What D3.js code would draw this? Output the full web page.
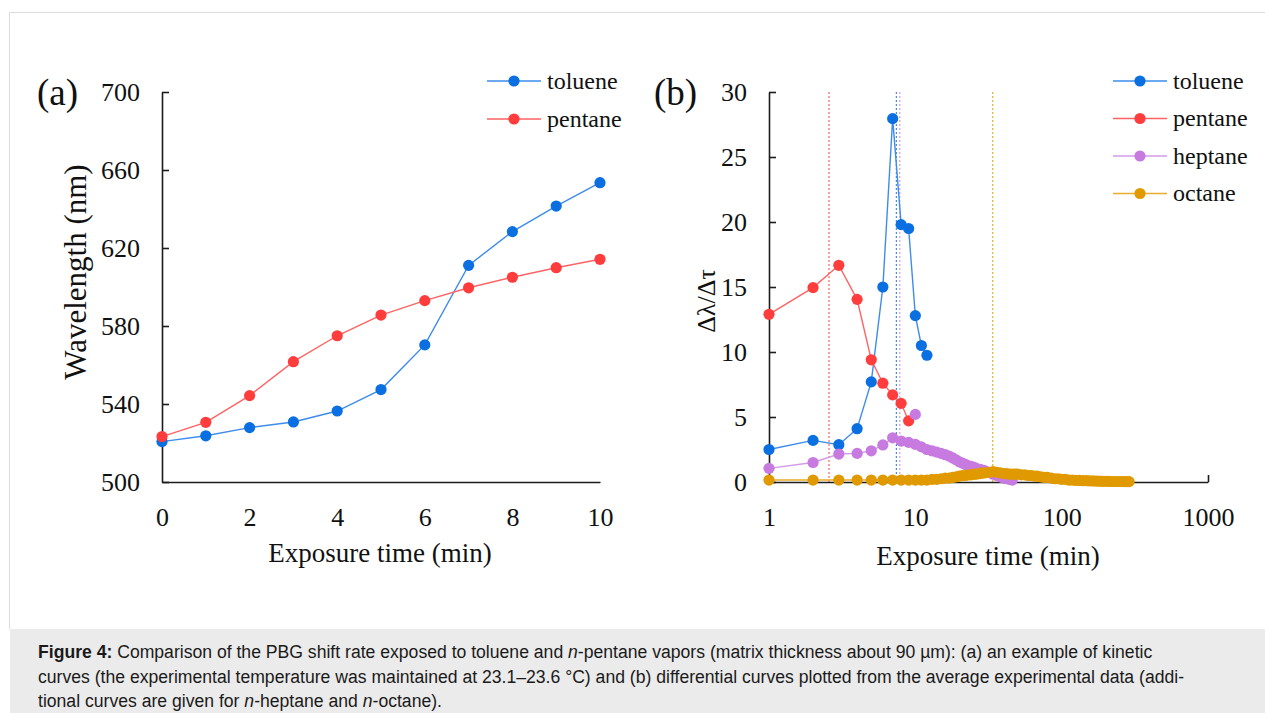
<!DOCTYPE html>
<html><head><meta charset="utf-8">
<script src="https://cdn.jsdelivr.net/npm/d3@7"></script>
<style>
html,body{margin:0;padding:0;background:#fff;}
svg{display:block;}
</style></head>
<body>
<svg id="fig" width="1265" height="713"></svg>
<script>
// ---------- DATA ----------
// Panel (a): kinetic curves
const aTime = [0,1,2,3,4,5,6,7,8,9,10];
const aToluene = [520.7,523.7,527.9,530.8,536.4,547.4,570.3,611.1,628.4,641.5,653.5];
const aPentane = [523.3,530.6,544.3,561.7,575.0,585.6,593.0,599.6,605.0,609.9,614.2];
const aYTicks = [500,540,580,620,660,700];
const aXTicks = [0,2,4,6,8,10];

// Panel (b): differential curves
const bTolueneTime = [1,2,3,4,5,6,7,8,9,10,11,12];
const bToluene = [2.5,3.2,2.87,4.1,7.7,15.0,27.95,19.8,19.5,12.8,10.5,9.75];
const bPentaneTime = [1,2,3,4,5,6,7,8,9];
const bPentane = [12.9,14.95,16.67,14.05,9.4,7.6,6.7,6.05,4.7];
const bHeptaneTime = [1,2,3,4,5,6,7,8,9,10,11,12,13,14,15,16,17,18,19,20,21,22,23,24,25,26,27,28,29,30,32,34,36,38,40,42,44,46];
const bHeptane = [1.05,1.5,2.15,2.2,2.4,2.85,3.4,3.15,3.05,2.9,2.7,2.5,2.4,2.3,2.2,2.1,2.0,1.85,1.7,1.55,1.45,1.35,1.25,1.2,1.15,1.05,1.0,0.95,0.9,0.85,0.75,0.6,0.5,0.4,0.3,0.25,0.2,0.15];
const bHeptaneExtraTime = [10];
const bHeptaneExtra = [5.2];
const bOctaneTime = [1,2,3,4,5,6,7,8,9,10,11,12,13,14,15,16,17,18,19,20,21,22,23,24,25,26,27,28,29,30,32,34,36,38,40,42,44,46,48,50,53,56,59,62,65,68,72,76,80,85,90,95,100,106,112,118,125,132,140,148,156,165,174,183,192,202,212,222,232,243,254,265,277,289];
const bOctane = [0.15,0.15,0.15,0.15,0.15,0.15,0.15,0.15,0.15,0.15,0.15,0.15,0.2,0.2,0.25,0.3,0.3,0.35,0.4,0.45,0.5,0.5,0.55,0.55,0.6,0.6,0.65,0.65,0.7,0.7,0.75,0.8,0.75,0.7,0.65,0.65,0.6,0.6,0.6,0.6,0.55,0.55,0.5,0.5,0.45,0.45,0.4,0.35,0.35,0.3,0.25,0.25,0.2,0.2,0.15,0.15,0.12,0.12,0.1,0.1,0.08,0.08,0.06,0.06,0.05,0.05,0.05,0.04,0.04,0.04,0.04,0.03,0.03,0.03];
// characteristic times (vertical dashed markers)
const markerNames = ["pentane","toluene","heptane","octane"];
const markerTimes = [2.57,7.42,7.83,33.8];
const bYTicks = [0,5,10,15,20,25,30];
const bXTicks = [1,10,100,1000];

const seriesNames = ["toluene","pentane","heptane","octane"];
const colors = {toluene:"#0a6fe0", pentane:"#ff3d3d", heptane:"#c77ae0", octane:"#e09a00"};
const lineColors = {toluene:"#3d8ceb", pentane:"#ff6262", heptane:"#d39ae8", octane:"#e8ad2a"};

const captionLines = [
  [["b","Figure 4:"],["r"," Comparison of the PBG shift rate exposed to toluene and "],["i","n"],["r","-pentane vapors (matrix thickness about 90 µm): (a) an example of kinetic"]],
  [["r","curves (the experimental temperature was maintained at 23.1–23.6 °C) and (b) differential curves plotted from the average experimental data (addi-"]],
  [["r","tional curves are given for "],["i","n"],["r","-heptane and "],["i","n"],["r","-octane)."]]
];

// ---------- DRAW ----------
const svg = d3.select("#fig");
const SERIF = "'Liberation Serif','Times New Roman',serif";
const SANS = "'Liberation Sans',Arial,Helvetica,sans-serif";
const axisColor = "#1c1c1c";

// frame + caption background
svg.append("rect").attr("x",0).attr("y",0).attr("width",1265).attr("height",713).attr("fill","#fff");
svg.append("line").attr("x1",9.5).attr("x2",1265).attr("y1",12.5).attr("y2",12.5).attr("stroke","#dcdcdc").attr("stroke-width",1);
svg.append("line").attr("x1",9.5).attr("x2",9.5).attr("y1",12.5).attr("y2",629).attr("stroke","#dcdcdc").attr("stroke-width",1);
svg.append("rect").attr("x",10).attr("y",629).attr("width",1255).attr("height",84).attr("fill","#ebebeb");

function styleAxis(g){
  g.select(".domain").attr("stroke",axisColor).attr("stroke-width",1.6);
  g.selectAll(".tick line").attr("stroke",axisColor).attr("stroke-width",1.6);
  g.selectAll(".tick text").attr("fill","#111").style("font-family",SERIF).style("font-size","26px");
}

function drawSeries(g, xs, ys, x, y, name){
  const pts = xs.map((t,i)=>[t,ys[i]]);
  g.append("path").datum(pts)
    .attr("fill","none").attr("stroke",lineColors[name]).attr("stroke-width",1.4)
    .attr("d", d3.line().x(d=>x(d[0])).y(d=>y(d[1])));
  g.selectAll(null).data(pts).enter().append("circle")
    .attr("cx",d=>x(d[0])).attr("cy",d=>y(d[1])).attr("r",5.6).attr("fill",colors[name]);
}

function legend(g, names, x0, y0, dy){
  names.forEach((n,i)=>{
    const yy = y0 + i*dy;
    g.append("line").attr("x1",x0).attr("x2",x0+54).attr("y1",yy).attr("y2",yy).attr("stroke",lineColors[n]).attr("stroke-width",1.4);
    g.append("circle").attr("cx",x0+27).attr("cy",yy).attr("r",5.6).attr("fill",colors[n]);
    g.append("text").attr("x",x0+60).attr("y",yy).attr("dy","0.33em").text(n)
      .style("font-family",SERIF).style("font-size","24px").attr("fill","#111");
  });
}

// ----- Panel (a)
const xA = d3.scaleLinear().domain([0,10]).range([162,600]);
const yA = d3.scaleLinear().domain([500,700]).range([482,92]);
const gA = svg.append("g");
gA.append("g").attr("transform",`translate(0,${yA(500)})`)
  .call(d3.axisBottom(xA).tickValues(aXTicks).tickSizeInner(0).tickSizeOuter(0).tickPadding(26).tickFormat(d3.format("d")))
  .call(styleAxis);
gA.append("g").attr("transform",`translate(${xA(0)},0)`)
  .call(d3.axisLeft(yA).tickValues(aYTicks).tickSizeInner(-7).tickSizeOuter(0).tickPadding(22).tickFormat(d3.format("d")))
  .call(styleAxis);
drawSeries(gA, aTime, aToluene, xA, yA, "toluene");
drawSeries(gA, aTime, aPentane, xA, yA, "pentane");
gA.append("text").attr("x",380).attr("y",562).attr("text-anchor","middle").text("Exposure time (min)")
  .style("font-family",SERIF).style("font-size","27px").attr("fill","#111");
gA.append("text").attr("transform","translate(86,272) rotate(-90)").attr("text-anchor","middle").text("Wavelength (nm)")
  .style("font-family",SERIF).style("font-size","31px").attr("fill","#111");
gA.append("text").attr("x",37).attr("y",105).text("(a)").style("font-family",SERIF).style("font-size","37px").attr("fill","#111");
legend(gA, ["toluene","pentane"], 487, 81, 38);

// ----- Panel (b)
const xB = d3.scaleLog().domain([1,1000]).range([769,1208]);
const yB = d3.scaleLinear().domain([0,30]).range([482,92]);
const gB = svg.append("g");
// dashed markers
markerTimes.forEach((t,i)=>{
  gB.append("line").attr("x1",xB(t)).attr("x2",xB(t)).attr("y1",yB(30)).attr("y2",yB(0))
    .attr("stroke",lineColors[markerNames[i]]).attr("stroke-width",1.2).attr("stroke-dasharray","2,2");
});
gB.append("g").attr("transform",`translate(0,${yB(0)})`)
  .call(d3.axisBottom(xB).tickValues(bXTicks).tickSizeInner(-7).tickSizeOuter(0).tickPadding(26).tickFormat(d3.format("d")))
  .call(styleAxis);
gB.append("g").attr("transform",`translate(${xB(1)},0)`)
  .call(d3.axisLeft(yB).tickValues(bYTicks).tickSizeInner(-7).tickSizeOuter(0).tickPadding(22).tickFormat(d3.format("d")))
  .call(styleAxis);
drawSeries(gB, bTolueneTime, bToluene, xB, yB, "toluene");
drawSeries(gB, bPentaneTime, bPentane, xB, yB, "pentane");
drawSeries(gB, bHeptaneTime, bHeptane, xB, yB, "heptane");
gB.selectAll(null).data(bHeptaneExtraTime).enter().append("circle")
  .attr("cx",d=>xB(d)).attr("cy",(d,i)=>yB(bHeptaneExtra[i])).attr("r",5.6).attr("fill",colors.heptane);
drawSeries(gB, bOctaneTime, bOctane, xB, yB, "octane");
gB.append("text").attr("x",988).attr("y",565).attr("text-anchor","middle").text("Exposure time (min)")
  .style("font-family",SERIF).style("font-size","27px").attr("fill","#111");
gB.append("text").attr("transform","translate(715,301) rotate(-90)").attr("text-anchor","middle").text("Δλ/Δτ")
  .style("font-family",SERIF).style("font-size","26px").attr("fill","#111");
gB.append("text").attr("x",654).attr("y",105).text("(b)").style("font-family",SERIF).style("font-size","37px").attr("fill","#111");
legend(gB, seriesNames, 1113, 81, 37.5);

// ----- Caption
const cap = svg.append("g");
captionLines.forEach((segs,i)=>{
  const t = cap.append("text").attr("x",38).attr("y",658 + i*24.5)
    .style("font-family",SANS).style("font-size","17.6px").attr("fill","#1a1a1a");
  segs.forEach(s=>{
    const ts = t.append("tspan").text(s[1]);
    if(s[0]==="b") ts.style("font-weight","bold");
    if(s[0]==="i") ts.style("font-style","italic");
  });
});
</script>
</body></html>
